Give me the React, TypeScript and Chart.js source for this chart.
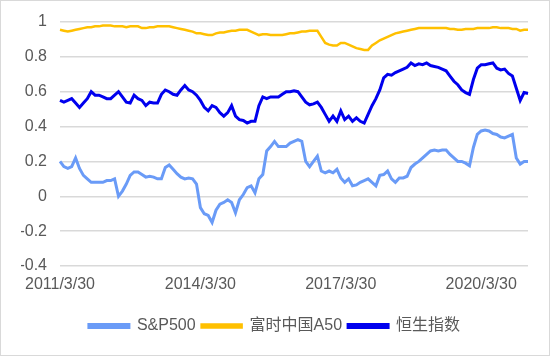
import { useEffect, useRef } from "react";
import { Chart, registerables } from "chart.js";

Chart.register(...registerables);

// Monthly categories 2011/3/30 .. 2021/3/30
const categories: string[] = [];
for (let i = 0; i < 121; i++) {
  const k = 2 + i;
  categories.push(`${2011 + Math.floor(k / 12)}/${(k % 12) + 1}/30`);
}

const tickLabels = ["2011/3/30", "2014/3/30", "2017/3/30", "2020/3/30"];
const seriesNames = ["S&P500", "富时中国A50", "恒生指数"];

const sp500 = [
  0.2, 0.17, 0.16, 0.17, 0.22, 0.16, 0.12, 0.1, 0.08, 0.08,
  0.08, 0.08, 0.09, 0.09, 0.1, 0.0, 0.03, 0.07, 0.12, 0.14,
  0.14, 0.125, 0.11, 0.115, 0.11, 0.1, 0.1, 0.165, 0.18, 0.155,
  0.13, 0.11, 0.1, 0.105, 0.1, 0.07, -0.065, -0.1, -0.11, -0.15,
  -0.08, -0.045, -0.035, -0.02, -0.035, -0.095, -0.02, 0.01, 0.05, 0.06,
  0.02, 0.1, 0.125, 0.26, 0.285, 0.315, 0.285, 0.285, 0.285, 0.305,
  0.315, 0.325, 0.315, 0.2, 0.17, 0.2, 0.23, 0.145, 0.135, 0.145,
  0.135, 0.155, 0.105, 0.08, 0.1, 0.06, 0.065, 0.08, 0.09, 0.1,
  0.08, 0.06, 0.12, 0.125, 0.145, 0.1, 0.08, 0.105, 0.105, 0.115,
  0.165, 0.185, 0.2, 0.22, 0.24, 0.26, 0.265, 0.26, 0.265, 0.265,
  0.24, 0.22, 0.2, 0.2, 0.19, 0.175, 0.28, 0.355, 0.375, 0.38,
  0.375, 0.36, 0.355, 0.34, 0.335, 0.345, 0.355, 0.22, 0.185, 0.2,
  0.2,
];

const a50 = [
  0.955, 0.95, 0.945, 0.95, 0.955, 0.96, 0.965, 0.97, 0.97, 0.975,
  0.975, 0.98, 0.98, 0.98, 0.975, 0.975, 0.975, 0.97, 0.975, 0.975,
  0.975, 0.965, 0.965, 0.97, 0.97, 0.975, 0.975, 0.975, 0.975, 0.97,
  0.965, 0.96, 0.955, 0.95, 0.945, 0.935, 0.935, 0.93, 0.925, 0.925,
  0.935, 0.94, 0.94, 0.945, 0.95, 0.95, 0.955, 0.955, 0.955, 0.945,
  0.935, 0.925, 0.93, 0.93, 0.925, 0.925, 0.925, 0.925, 0.93, 0.935,
  0.935, 0.94, 0.945, 0.945, 0.95, 0.95, 0.95, 0.915, 0.88, 0.87,
  0.865, 0.865, 0.88, 0.88, 0.87, 0.86, 0.85, 0.845, 0.84, 0.84,
  0.865, 0.88, 0.895, 0.905, 0.915, 0.925, 0.935, 0.94, 0.945, 0.95,
  0.955, 0.96, 0.965, 0.965, 0.965, 0.965, 0.965, 0.965, 0.965, 0.965,
  0.96, 0.96, 0.955, 0.955, 0.96, 0.96, 0.96, 0.965, 0.965, 0.965,
  0.965, 0.97, 0.97, 0.965, 0.965, 0.965, 0.96, 0.96, 0.95, 0.955,
  0.955,
];

const hsi = [
  0.55, 0.54, 0.55, 0.56, 0.535, 0.51, 0.535, 0.56, 0.6, 0.58,
  0.58, 0.57, 0.56, 0.56, 0.58, 0.6, 0.57, 0.54, 0.535, 0.58,
  0.56, 0.55, 0.52, 0.54, 0.535, 0.535, 0.585, 0.61, 0.6, 0.585,
  0.58, 0.61, 0.635, 0.61, 0.6, 0.58, 0.55, 0.51, 0.49, 0.52,
  0.51, 0.48, 0.46, 0.48, 0.52, 0.46, 0.44, 0.435, 0.42, 0.43,
  0.43, 0.52, 0.57, 0.56, 0.57, 0.57, 0.57, 0.585, 0.6, 0.6,
  0.605, 0.6, 0.57, 0.54, 0.525, 0.53, 0.54, 0.51, 0.47, 0.43,
  0.46, 0.43, 0.49, 0.44, 0.46, 0.43, 0.45, 0.43, 0.42, 0.47,
  0.52, 0.56, 0.61, 0.68, 0.7, 0.695, 0.71, 0.72, 0.73, 0.74,
  0.765, 0.75, 0.76, 0.755, 0.765, 0.75, 0.745, 0.74, 0.73, 0.72,
  0.69, 0.66, 0.64, 0.61, 0.595, 0.585, 0.67, 0.735, 0.755, 0.755,
  0.76, 0.765, 0.735, 0.725, 0.73, 0.705, 0.69, 0.62, 0.55, 0.595,
  0.59,
];

const seriesValues = [sp500, a50, hsi];
const seriesColors = ["#6a9bf7", "#ffc000", "#0000ee"];
const seriesWidths = [3, 2.5, 3];

const yMin = -0.4;
const yMax = 1;
const yStep = 0.2;

const FONT = "'Liberation Sans', 'Noto Sans CJK SC', sans-serif";

export default function App() {
  const canvasRef = useRef<HTMLCanvasElement | null>(null);

  useEffect(() => {
    const canvas = canvasRef.current;
    if (!canvas) return;
    const chart = new Chart(canvas, {
      type: "line",
      data: {
        labels: categories,
        datasets: seriesNames.map((name, i) => ({
          label: name,
          data: seriesValues[i],
          borderColor: seriesColors[i],
          backgroundColor: seriesColors[i],
          borderWidth: seriesWidths[i],
          pointRadius: 0,
          pointHoverRadius: 0,
          tension: 0,
          fill: false,
        })),
      },
      options: {
        animation: false,
        responsive: false,
        events: [],
        layout: { padding: { left: 20, right: 21, top: 21, bottom: 11 } },
        scales: {
          x: {
            type: "category",
            offset: false,
            grid: { display: false, drawTicks: false },
            border: { display: false },
            ticks: {
              autoSkip: false,
              maxRotation: 0,
              minRotation: 0,
              padding: 9,
              color: "#595959",
              font: { family: FONT, size: 16 },
            },
            afterBuildTicks: (scale: any) => {
              scale.ticks = scale.ticks.filter((t: any) =>
                tickLabels.includes(categories[t.value])
              );
            },
            afterFit: (scale: any) => {
              scale.height = 46;
              scale.paddingLeft = 0;
              scale.paddingRight = 0;
            },
          },
          y: {
            min: yMin,
            max: yMax,
            grid: { color: "#d9d9d9", lineWidth: 1.5, drawTicks: false },
            border: { display: false },
            ticks: {
              stepSize: yStep,
              padding: 13,
              color: "#595959",
              font: { family: FONT, size: 16 },
              callback: (v: any) => String(parseFloat(Number(v).toFixed(1))),
            },
            afterFit: (scale: any) => {
              scale.width = 39;
              scale.paddingTop = 0;
              scale.paddingBottom = 0;
            },
          },
        },
        plugins: {
          legend: {
            position: "bottom",
            labels: {
              boxWidth: 40,
              boxHeight: 3,
              padding: 6,
              color: "#595959",
              font: { family: FONT, size: 16 },
            },
          },
          tooltip: { enabled: false },
        },
      },
    });
    return () => chart.destroy();
  }, []);

  return (
    <div
      style={{
        position: "absolute",
        left: 0,
        top: 0,
        width: 550,
        height: 356,
        border: "1px solid #d9d9d9",
        boxSizing: "border-box",
        background: "#ffffff",
      }}
    >
      <canvas ref={canvasRef} width={548} height={354} style={{ display: "block" }} />
    </div>
  );
}
